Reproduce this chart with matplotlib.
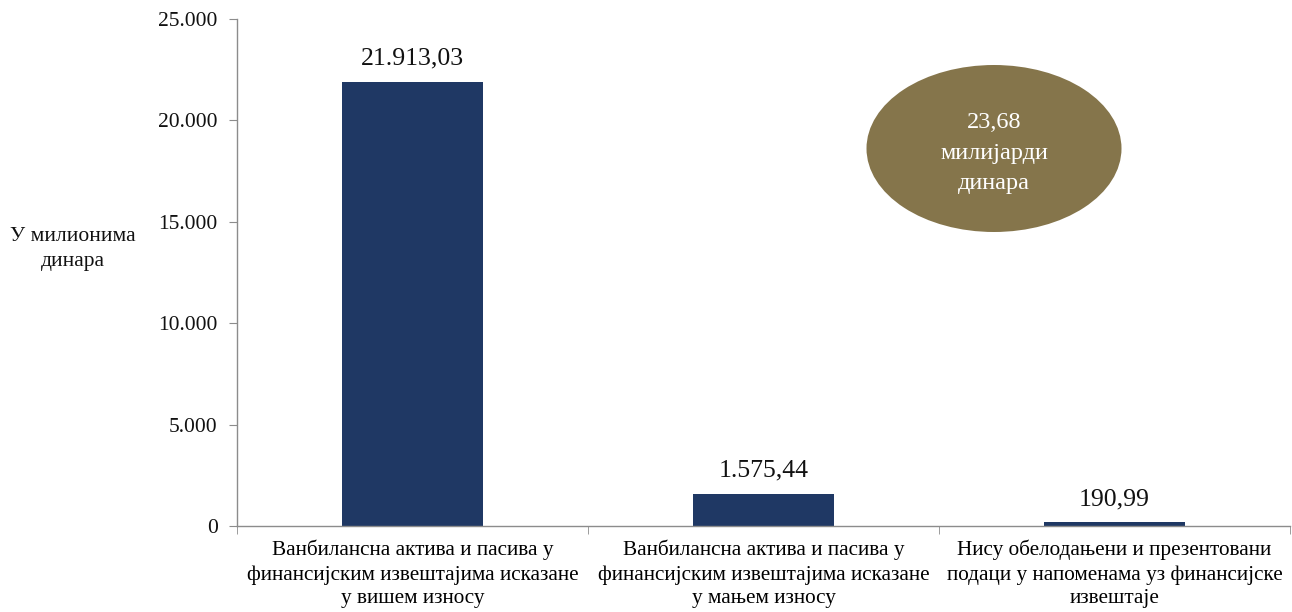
import matplotlib
matplotlib.use("Agg")
import matplotlib.pyplot as plt
from matplotlib.patches import Ellipse
from matplotlib.ticker import FuncFormatter, FixedLocator

categories = [
    "Ванбилансна актива и пасива у\nфинансијским извештајима исказане\nу вишем износу",
    "Ванбилансна актива и пасива у\nфинансијским извештајима исказане\nу мањем износу",
    "Нису обелодањени и презентовани\nподаци у напоменама уз финансијске\nизвештаје",
]
values = [21913.03, 1575.44, 190.99]
value_labels = ["21.913,03", "1.575,44", "190,99"]
y_ticks = [0, 5000, 10000, 15000, 20000, 25000]
total_text = "23,68\nмилијарди\nдинара"
ylabel_text = "У милионима\nдинара"

BAR = "#1f3864"
OLIVE = "#85754b"
AXIS = "#8c8c8c"

plt.rcParams["font.family"] = ["Liberation Serif", "DejaVu Serif"]

fig = plt.figure(figsize=(12.92, 6.12), dpi=100)
ax = fig.add_axes([237/1292, 1-526/612, (1290-237)/1292, (526-19)/612])

x = list(range(len(values)))
ax.bar(x, values, width=0.4, color=BAR, zorder=2)
for xi, v, lab in zip(x, values, value_labels):
    ax.text(xi, v + 600, lab, ha="center", va="bottom", fontsize=18.5, color="#111111")

ax.set_xlim(-0.5, len(values) - 0.5)
ax.set_ylim(0, 25000)
ax.yaxis.set_major_locator(FixedLocator(y_ticks))
ax.yaxis.set_major_formatter(FuncFormatter(lambda v, _: f"{int(v):,}".replace(",", ".")))
ax.set_xticks(x)
ax.set_xticklabels(categories, fontsize=15.3, linespacing=1.32)
ax.xaxis.set_minor_locator(FixedLocator([i - 0.5 for i in range(len(values) + 1)]))
ax.tick_params(axis="x", which="major", length=0, pad=10)
ax.tick_params(axis="x", which="minor", length=6, color=AXIS)
ax.tick_params(axis="y", length=6, color=AXIS, labelsize=15.5, pad=8, labelcolor="#111111")

for s in ["top", "right"]:
    ax.spines[s].set_visible(False)
for s in ["left", "bottom"]:
    ax.spines[s].set_color(AXIS)
    ax.spines[s].set_linewidth(1)

fig.text(73/1292, 1-249/612, ylabel_text, ha="center", va="center", fontsize=15.5,
         color="#111111", linespacing=1.45)

ell = Ellipse((9.94, 6.12-1.485), 2.55, 1.67, transform=fig.dpi_scale_trans,
              facecolor=OLIVE, edgecolor="none")
fig.add_artist(ell)
fig.text(994/1292, 1-153/612, total_text, ha="center", va="center", fontsize=17.5,
         color="white", linespacing=1.6)

fig.savefig("out.png", dpi=100)
